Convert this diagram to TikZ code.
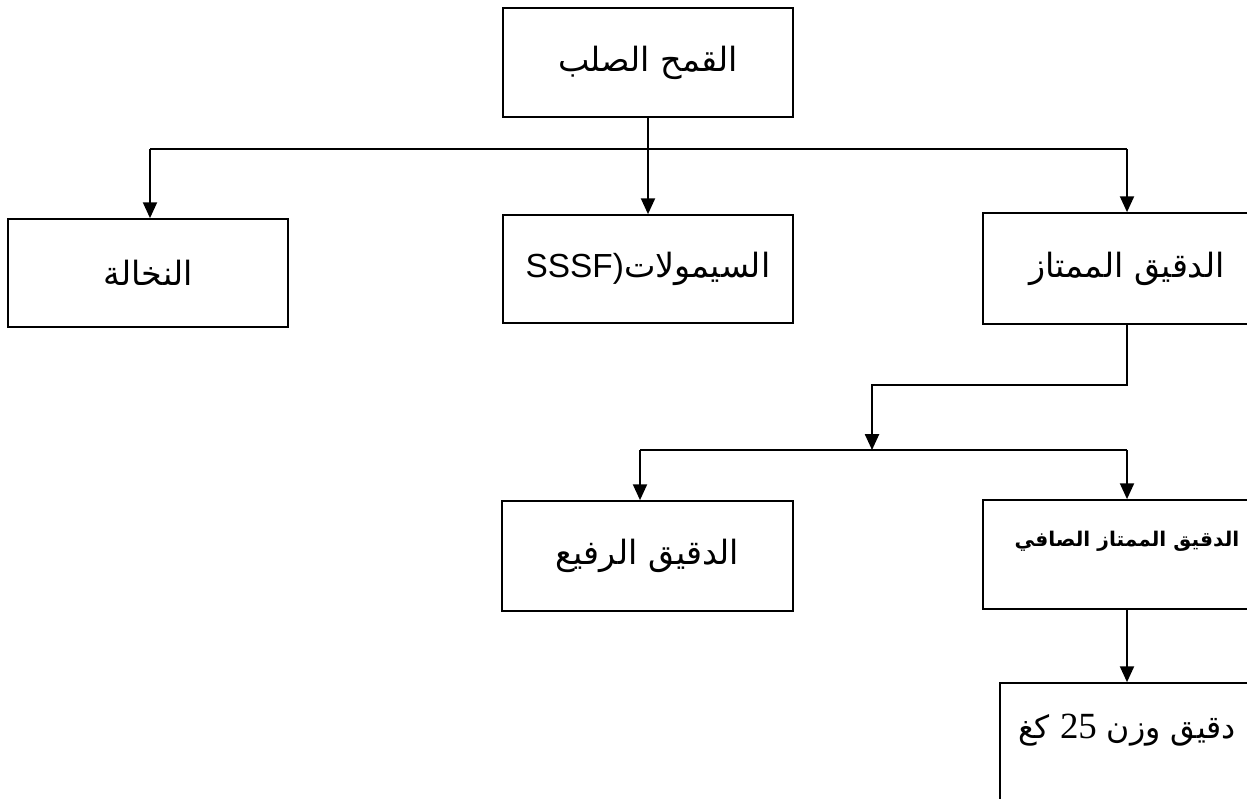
\documentclass[tikz,border=0pt]{standalone}
\usepackage{fontspec}
\usetikzlibrary{arrows.meta}
\TeXXeTstate=1
\newfontfamily\arabicfont[Script=Arabic]{DejaVu Sans}
\newfontfamily\latinfont{Liberation Sans}
\newfontfamily\numfont{Liberation Serif}
\tikzstyle{box}=[draw,rectangle,inner sep=0pt,minimum width=5.8cm,minimum height=2.18cm,font=\arabicfont\fontsize{19}{23}\selectfont]

\begin{document}
\begin{tikzpicture}[x=0.02cm,y=-0.02cm,line width=1pt,
arr/.style={-{Triangle[width=8pt,length=9pt]}}]
\useasboundingbox (0,0) rectangle (1247,798);
\clip (0,0) rectangle (1247,798);
% boxes
\node [box] (wheat) at (648,62.5) {\beginR القمح الصلب\endR};
\node [box,minimum width=5.6cm,minimum height=2.16cm] (bran) at (148,273) {\beginR النخالة\endR};
\node [box,minimum height=2.16cm] (semolina) at (648,269) {{\latinfont SSSF)}\beginR السيمولات\endR};
\node [box,minimum width=5.76cm,minimum height=2.22cm] (flour) at (1127,268.5) {\beginR الدقيق الممتاز\endR};
\node [box,minimum width=5.82cm,minimum height=2.2cm] (fine) at (647.5,556) {\beginR الدقيق الرفيع\endR};
\node [box,minimum width=5.76cm,minimum height=2.18cm,
    label={[name=puretext,yshift=0.27cm,font=\arabicfont\bfseries\fontsize{11.5}{14}\selectfont]center:\beginR الدقيق الممتاز الصافي\endR}] (pure) at (1127,554.5) {};
\node [box,minimum width=5.08cm,minimum height=2.34cm,
    label={[name=bagtext,yshift=0.23cm,font=\arabicfont\fontsize{18}{22}\selectfont]center:\beginR دقيق وزن {\numfont\fontsize{21}{25}\selectfont\beginL 25\endL} كغ\endR}] (bag) at (1127,741.5) {};
% first split
\coordinate (busL) at (150,149);
\coordinate (busR) at (1127,149);
\draw (busL) -- (busR);
\draw [arr] (busL) -- (busL |- bran.north);
\draw [arr] (wheat.south) -- (semolina.north);
\draw [arr] (busR) -- (flour.north);
% second split
\coordinate (bend) at (872,385);
\coordinate (split) at (872,450);
\draw [arr] (flour.south) |- (bend) -- (split);
\coordinate (bus2L) at (640,450);
\coordinate (bus2R) at (1127,450);
\draw (bus2L) -- (bus2R);
\draw [arr] (bus2L) -- (bus2L |- fine.north);
\draw [arr] (bus2R) -- (pure.north);
\draw [arr] (pure.south) -- (bag.north);
\end{tikzpicture}
\end{document}
